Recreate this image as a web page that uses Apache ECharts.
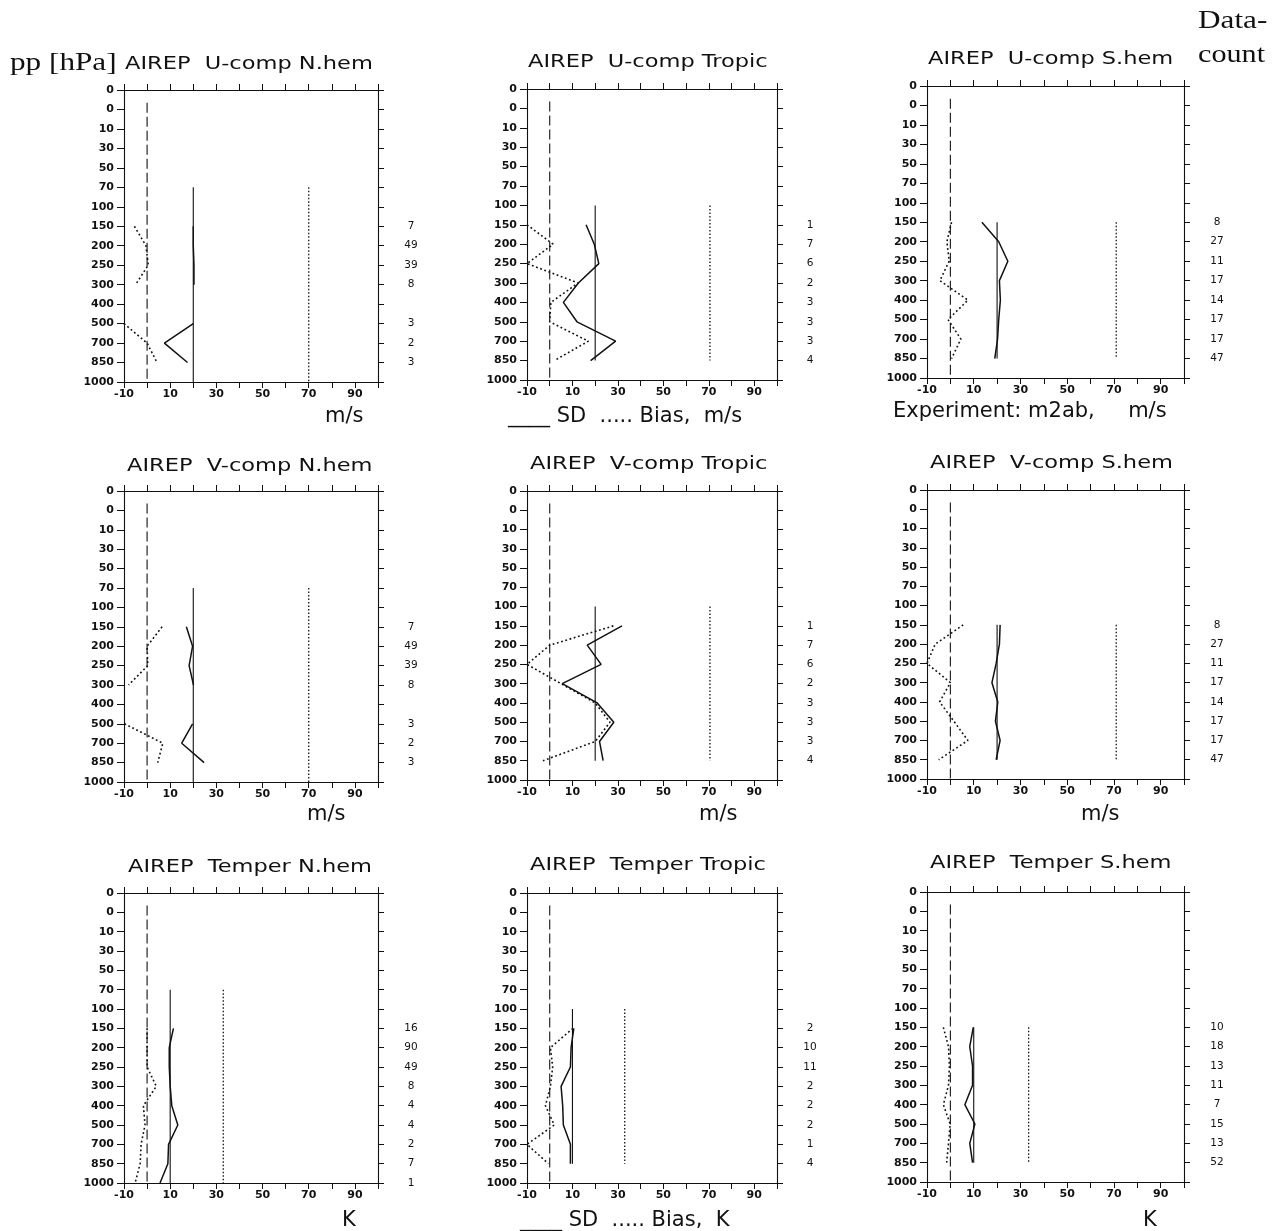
<!DOCTYPE html>
<html>
<head>
<meta charset="utf-8">
<title>AIREP verification profiles</title>
<script src="https://cdn.jsdelivr.net/npm/echarts@6/dist/echarts.min.js"></script>
<style>
  html, body { margin: 0; padding: 0; background: #ffffff; }
  #chart { width: 1283px; height: 1231px; }
</style>
</head>
<body>
<div id="chart"></div>
<script>
// Pressure axis: evenly spaced rows, top to bottom (labels as printed)
const levels = ['0', '0', '10', '30', '50', '70', '100', '150', '200', '250', '300', '400', '500', '700', '850', '1000'];
// Levels that carry statistics (hPa)
const dataLevels = [150, 200, 250, 300, 400, 500, 700, 850, 1000];

// U-component, m/s
const uNhemSD    = [20, 20, 20.3, 20.3, null, 20, 7.5, 17.5, null];
const uNhemBias  = [-5.5, -0.5, 0.5, -5, null, -10, 0, 4.3, null];
const uNhemCount = [7, 49, 39, 8, null, 3, 2, 3, null];

const uTropSD    = [16, 19.6, 21.6, 12.6, 6, 12, 29, 18, null];
const uTropBias  = [-10, 1.5, -10, 12.5, 0.5, 0, 17, 2, null];
const uTropCount = [1, 7, 6, 2, 3, 3, 3, 4, null];

const uShemSD    = [13.5, 20.7, 24.6, 21, 21.4, 20.7, 20.2, 19, null];
const uShemBias  = [0.5, -1.5, -0.5, -4.5, 7.5, -1, 4.5, 0.5, null];
const uShemCount = [8, 27, 11, 17, 14, 17, 17, 47, null];

// V-component, m/s
const vNhemSD    = [17, 19.7, 18.2, 20.1, null, 19.7, 15, 24.7, null];
const vNhemBias  = [6.5, 0, 0.3, -8, null, -9.8, 6.8, 4.6, null];
const vNhemCount = [7, 49, 39, 8, null, 3, 2, 3, null];

const vTropSD    = [31.8, 16.5, 22.6, 5.5, 20.9, 28.2, 21.9, 23.5, null];
const vTropBias  = [28, 0, -10, 5, 20, 26.5, 20, -3, null];
const vTropCount = [1, 7, 6, 2, 3, 3, 3, 4, null];

const vShemSD    = [21.3, 21, 19.6, 17.8, 20.3, 19.3, 21.3, 19.6, null];
const vShemBias  = [5.5, -6.5, -10, 0, -4.6, 1.5, 7.5, -5, null];
const vShemCount = [8, 27, 11, 17, 14, 17, 17, 47, null];

// Temperature, K
const tNhemSD    = [11.4, 9.6, 9.6, 10, 10.7, 13.3, 9.3, 9, 5.6];
const tNhemBias  = [0, 0, 0, 4, -1.6, -0.9, -2.6, -3, -5.2];
const tNhemCount = [16, 90, 49, 8, 4, 4, 2, 7, 1];

const tTropSD    = [10.6, 9.4, 9.1, 5, 5.7, 6, 9.1, 9.1, null];
const tTropBias  = [10.2, 0.3, 1.3, 0.3, -1.9, 2, -10, -0.6, null];
const tTropCount = [2, 10, 11, 2, 2, 2, 1, 4, null];

const tShemSD    = [9.8, 8.3, 9.5, 9.5, 6.2, 10.5, 8.3, 9.5, null];
const tShemBias  = [-3, -0.8, -0.4, -0.8, -3, -0.1, -0.8, -1.6, null];
const tShemCount = [10, 18, 13, 11, 7, 15, 13, 52, null];

// Reference verticals per panel (SD, bias) and their pressure span per region
const refSD   = [20, 20, 20, 20, 20, 20, 10, 10, 10];
const refBias = [70, 70.5, 71, 70, 70.5, 71, 33, 33, 33.5];
const refSpan = [[70, 1000], [100, 850], [150, 850]];

const panelTitles = [
  'AIREP  U-comp N.hem', 'AIREP  U-comp Tropic', 'AIREP  U-comp S.hem',
  'AIREP  V-comp N.hem', 'AIREP  V-comp Tropic', 'AIREP  V-comp S.hem',
  'AIREP  Temper N.hem', 'AIREP  Temper Tropic', 'AIREP  Temper S.hem'
];
const sdSets    = [uNhemSD, uTropSD, uShemSD, vNhemSD, vTropSD, vShemSD, tNhemSD, tTropSD, tShemSD];
const biasSets  = [uNhemBias, uTropBias, uShemBias, vNhemBias, vTropBias, vShemBias, tNhemBias, tTropBias, tShemBias];
const countSets = [uNhemCount, uTropCount, uShemCount, vNhemCount, vTropCount, vShemCount, tNhemCount, tTropCount, tShemCount];

// ---- layout ----
const gridLeft   = [124, 527, 927];
const gridWidth  = [254, 250, 257];
const gridTop    = [[90, 89, 86], [491, 491, 490], [893, 893, 892]];
const gridHeight = [[292, 291, 292], [291, 289, 289], [290, 290, 290]];
const titlePos   = [[125, 64.6], [528, 62.6], [928, 59.6],
                    [127, 466], [530, 464], [930, 463],
                    [128, 867.5], [530, 865.5], [930, 863.5]];

const ink = '#111111';
const tickFont = { fontFamily: 'DejaVu Sans', fontSize: 11, fontWeight: 'bold', color: ink };
const countFont = { fontFamily: 'DejaVu Sans', fontSize: 10.5, color: ink };

const rowOf = p => levels.lastIndexOf(String(p));
const dataRows = dataLevels.map(rowOf);
const profile = vals => dataLevels.map((p, j) => [vals[j] == null ? '-' : vals[j], rowOf(p)]);

const grid = [], xAxis = [], yAxis = [], series = [];

panelTitles.forEach((name, i) => {
  const r = Math.floor(i / 3), c = i % 3;
  grid.push({ left: gridLeft[c], top: gridTop[r][c], width: gridWidth[c], height: gridHeight[r][c] });

  const lineCommon = { show: true, onZero: false, lineStyle: { color: ink, width: 1.1 } };
  xAxis.push({
    gridIndex: i, type: 'value', min: -10, max: 100, interval: 10, position: 'bottom',
    axisLine: lineCommon,
    axisTick: { show: true, length: 6, lineStyle: { color: ink } },
    axisLabel: Object.assign({ margin: 7, formatter: v => (Math.abs(v) % 20 === 10 ? String(v) : '') }, tickFont),
    splitLine: { show: false }
  });
  xAxis.push({
    gridIndex: i, type: 'value', min: -10, max: 100, interval: 10, position: 'top',
    axisLine: lineCommon,
    axisTick: { show: true, length: 6, lineStyle: { color: ink } },
    axisLabel: { show: false },
    splitLine: { show: false }
  });

  const counts = countSets[i];
  yAxis.push({
    gridIndex: i, type: 'value', min: 0, max: 15, interval: 1, inverse: true, position: 'left',
    axisLine: lineCommon,
    axisTick: { show: true, length: 7, lineStyle: { color: ink } },
    axisLabel: Object.assign({ margin: 10, formatter: v => levels[Math.round(v)] }, tickFont),
    splitLine: { show: false }
  });
  yAxis.push({
    gridIndex: i, type: 'value', min: 0, max: 15, interval: 1, inverse: true, position: 'right',
    axisLine: lineCommon,
    axisTick: { show: true, length: 6, lineStyle: { color: ink } },
    axisLabel: Object.assign({
      margin: 33, align: 'center',
      formatter: v => {
        const j = dataRows.indexOf(Math.round(v));
        return j >= 0 && counts[j] != null ? String(counts[j]) : '';
      }
    }, countFont),
    splitLine: { show: false }
  });

  const base = {
    type: 'line', xAxisIndex: 2 * i, yAxisIndex: 2 * i,
    symbol: 'none', showSymbol: false, silent: true, connectNulls: false
  };
  const span = refSpan[c];
  // zero line
  series.push(Object.assign({}, base, {
    data: [[0, 0.65], [0, 15]],
    lineStyle: { color: ink, width: 1.1, type: [10, 4] }
  }));
  // reference verticals
  series.push(Object.assign({}, base, {
    data: [[refSD[i], rowOf(span[0])], [refSD[i], rowOf(span[1])]],
    lineStyle: { color: ink, width: 1.1, type: 'solid' }
  }));
  series.push(Object.assign({}, base, {
    data: [[refBias[i], rowOf(span[0])], [refBias[i], rowOf(span[1])]],
    lineStyle: { color: ink, width: 1.3, type: [1.5, 2] }
  }));
  // standard deviation and bias profiles
  series.push(Object.assign({}, base, {
    name: 'SD', data: profile(sdSets[i]),
    lineStyle: { color: ink, width: 1.5, type: 'solid' }
  }));
  series.push(Object.assign({}, base, {
    name: 'Bias', data: profile(biasSets[i]),
    lineStyle: { color: ink, width: 1.6, type: [1.8, 2.6] }
  }));
});

// ---- text ----
const sans = 'DejaVu Sans';
const serif = 'Liberation Serif';
function txt(x, y, text, size, family, sx) {
  return {
    type: 'text', x: x, y: y, scaleX: sx || 1, silent: true,
    style: { text: text, fontSize: size, fontFamily: family, fill: ink, align: 'left', verticalAlign: 'middle' }
  };
}
const graphics = [];
panelTitles.forEach((t, i) => graphics.push(txt(titlePos[i][0], titlePos[i][1], t, 18, sans, 1.25)));
graphics.push(txt(10, 63, 'pp [hPa]', 26, serif, 1.2));
graphics.push(txt(1198, 21, 'Data-', 26, serif, 1.2));
graphics.push(txt(1198, 55, 'count', 26, serif, 1.16));
// units and legends under the panels
graphics.push(txt(325, 416.7, 'm/s', 21, sans));
graphics.push(txt(508, 416.7, '____ SD  ..... Bias,  m/s', 21, sans));
graphics.push(txt(893, 411.7, 'Experiment: m2ab,     m/s', 21, sans));
graphics.push(txt(307, 814.7, 'm/s', 21, sans));
graphics.push(txt(699, 814.7, 'm/s', 21, sans));
graphics.push(txt(1081, 814.7, 'm/s', 21, sans));
graphics.push(txt(342, 1220.7, 'K', 21, sans));
graphics.push(txt(520, 1220.5, '____ SD  ..... Bias,  K', 21, sans));
graphics.push(txt(1143, 1220.7, 'K', 21, sans));

const chart = echarts.init(document.getElementById('chart'), null, { renderer: 'canvas' });
chart.setOption({
  backgroundColor: '#ffffff',
  animation: false,
  grid: grid,
  xAxis: xAxis,
  yAxis: yAxis,
  series: series,
  graphic: graphics
});
</script>
</body>
</html>
